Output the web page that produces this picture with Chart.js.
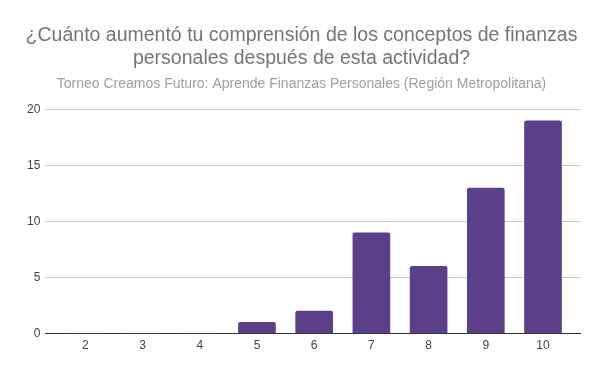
<!DOCTYPE html>
<html>
<head>
<meta charset="utf-8">
<script src="https://cdn.jsdelivr.net/npm/chart.js@4"></script>
<style>
    html, body { margin: 0; padding: 0; background: #fff; }
    #wrap { width: 600px; height: 371px; }
</style>
</head>
<body>
<div id="wrap"><canvas id="chart"></canvas></div>
<script>
const categories = [2, 3, 4, 5, 6, 7, 8, 9, 10];
const responses = [0, 0, 0, 1, 2, 9, 6, 13, 19];
const yTicks = [0, 5, 10, 15, 20];

const titleLines = [
    '¿Cuánto aumentó tu comprensión de los conceptos de finanzas',
    'personales después de esta actividad?'
];
const subtitleText = 'Torneo Creamos Futuro: Aprende Finanzas Personales (Región Metropolitana)';

const fontFamily = '"Liberation Sans", Arial, sans-serif';

const ctx = document.getElementById('chart').getContext('2d');
new Chart(ctx, {
    type: 'bar',
    data: {
        datasets: [{
            data: categories.map((c, i) => ({ x: c, y: responses[i] })),
            backgroundColor: '#5b3f88',
            borderRadius: { topLeft: 2, topRight: 2 },
            borderSkipped: 'bottom',
            barThickness: 37
        }]
    },
    options: {
        responsive: true,
        maintainAspectRatio: false,
        animation: false,
        layout: { padding: { left: 22, right: 19, top: 4, bottom: 13 } },
        plugins: {
            legend: { display: false },
            tooltip: { enabled: false },
            title: {
                display: true,
                text: titleLines,
                color: '#757575',
                font: { family: fontFamily, size: 19.5, weight: 'normal', lineHeight: 1.2 },
                padding: { top: 20, bottom: 5 }
            },
            subtitle: {
                display: true,
                text: subtitleText,
                color: '#a0a0a0',
                font: { family: fontFamily, size: 14, weight: 'normal', lineHeight: 1.2 },
                padding: { top: 0, bottom: 17 }
            }
        },
        scales: {
            x: {
                type: 'linear',
                offset: false,
                min: 1.301,
                max: 10.664,
                afterBuildTicks: scale => {
                    scale.ticks = categories.map(v => ({ value: v }));
                },
                grid: { display: false, drawTicks: false, offset: false },
                border: { display: false },
                ticks: {
                    color: '#444',
                    font: { family: fontFamily, size: 12 },
                    padding: 5,
                    autoSkip: false,
                    maxRotation: 0
                }
            },
            y: {
                min: 0,
                max: 20,
                afterBuildTicks: scale => {
                    scale.ticks = yTicks.map(v => ({ value: v }));
                },
                grid: {
                    drawTicks: false,
                    color: ctx => ctx.tick && ctx.tick.value === 0 ? '#333' : '#cccccc',
                    lineWidth: 1
                },
                border: { display: false },
                ticks: {
                    color: '#444',
                    font: { family: fontFamily, size: 12 },
                    padding: 5
                }
            }
        }
    }
});
</script>
</body>
</html>
